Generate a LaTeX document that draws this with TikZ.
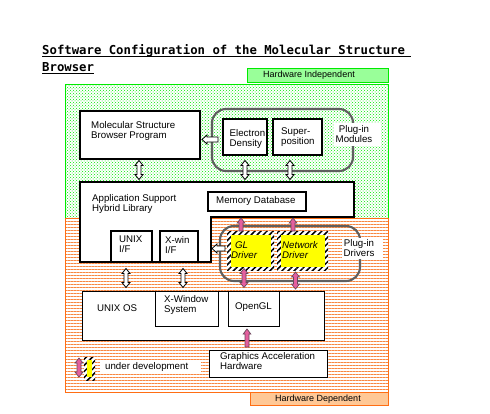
\documentclass[tikz,border=0pt]{standalone}
\usepackage{fontspec}
\setmainfont{Liberation Sans}
\newfontfamily\titlefont{DejaVu Sans Mono}
\usetikzlibrary{patterns,patterns.meta}
\definecolor{hwgreen}{RGB}{0,235,0}
\definecolor{hwgreenfill}{RGB}{153,255,153}
\definecolor{dotgreen}{RGB}{0,235,0}
\definecolor{hworange}{RGB}{255,110,20}
\definecolor{lineorange}{RGB}{248,135,65}
\definecolor{hworangefill}{RGB}{255,200,150}
\definecolor{plugray}{RGB}{95,95,95}
\definecolor{devyellow}{RGB}{255,255,0}
\definecolor{devpink}{RGB}{228,95,158}
\definecolor{devpinkline}{RGB}{105,70,90}
\newcommand{\mylines}[1]{\begin{tabular}[t]{@{}l@{}}#1\end{tabular}}
\newcommand{\mylinesc}[1]{\begin{tabular}[t]{@{}c@{}}#1\end{tabular}}
\newcommand{\rectnode}[6]{\node[#1, minimum width={#5-#3}, minimum height={#6-#4}] (#2) at ({(#3+#5)/2},{(#4+#6)/2}) {};}
\tikzset{
  box/.style={draw, fill=white, line width=1.7, inner sep=0},
  thinbox/.style={draw, fill=white, line width=0.9, inner sep=0},
  plugin/.style={draw=plugray, line width=2.1, rounded corners=14, inner sep=0},
  lbl/.style={anchor=base west, inner sep=0, font=\fontsize{9.7}{10}\selectfont},
  lblc/.style={anchor=base, inner sep=0, font=\fontsize{9.7}{10}\selectfont},
  whitebg/.style={fill=white, inner sep=0},
  devouter/.style={fill=white, inner sep=0, postaction={pattern={Lines[angle=45,distance=4.3pt,line width=1.5pt]}, pattern color=black}},
  devinner/.style={fill=devyellow, inner sep=0},
  hollow/.style={draw, fill=white, line width=0.8},
  pinkarr/.style={fill=devpink, draw=devpinkline, line width=0.7},
  pics/vdbl/.style={code={
    \pgfmathsetmacro\hl{#1}
    \path[pic actions] (0,-\hl) -- (4,-\hl+5) -- (2,-\hl+5) -- (2,\hl-5) -- (4,\hl-5) -- (0,\hl) -- (-4,\hl-5) -- (-2,\hl-5) -- (-2,-\hl+5) -- (-4,-\hl+5) -- cycle;
  }},
  pics/vup/.style={code={
    \pgfmathsetmacro\hl{#1}
    \path[pic actions] (0,-\hl) -- (3.8,-\hl+5) -- (2,-\hl+5) -- (2,\hl) -- (-2,\hl) -- (-2,-\hl+5) -- (-3.8,-\hl+5) -- cycle;
  }},
  pics/hleft/.style={code={
    \pgfmathsetmacro\hl{#1}
    \path[pic actions] (-\hl,0) -- (-\hl+5,-4.5) -- (-\hl+5,-2.5) -- (\hl,-2.5) -- (\hl,2.5) -- (-\hl+5,2.5) -- (-\hl+5,4.5) -- cycle;
  }},
}
\begin{document}
\begin{tikzpicture}[x=1pt,y=-1pt]
\useasboundingbox[fill=white] (0,0) rectangle (490,413);
% regions
\path[fill=white] (65,84) rectangle (388,218);
\path[pattern=crosshatch dots, pattern color=dotgreen] (65,84) rectangle (388,218);
\draw[hwgreen, line width=1] (65,84) rectangle (388,218);
\path[fill=white] (65,218) rectangle (388,392);
\path[pattern={Lines[angle=0,distance=3pt,line width=0.8pt]}, pattern color=lineorange] (65,218) rectangle (388,392);
\draw[hworange, line width=1] (65,218) rectangle (388,392);
% region labels
\rectnode{draw=hwgreen, fill=hwgreenfill, line width=1, inner sep=0}{hi}{247}{68}{388}{82}
\node[inner sep=0, font=\fontsize{9}{10}\selectfont] (hit) at (309,75.5) {Hardware Independent};
\rectnode{draw=hworange, fill=hworangefill, line width=1, inner sep=0}{hd}{250}{392}{388}{405}
\node[inner sep=0, font=\fontsize{9}{10}\selectfont] (hdt) at (318,399) {Hardware Dependent};
% title
\node[anchor=base west, inner sep=0, font=\titlefont\bfseries\fontsize{12.3}{14}\selectfont] (t1) at (42,54) {Software Configuration of the Molecular Structure};
\draw[line width=1.3] ([yshift=-2.8pt]t1.base west) -- ++(369,0);
\node[anchor=base west, inner sep=0, font=\titlefont\bfseries\fontsize{12.3}{14}\selectfont] (t2) at (42,71) {Browser};
\draw[line width=1.3] ([yshift=-2.8pt]t2.base west) -- ([yshift=-2.8pt]t2.base east);
% upper part
\rectnode{box}{msbp}{80}{111}{200}{159}
\node[lbl] (msbpt) at (91,128) {\mylines{Molecular Structure\\Browser Program}};
\rectnode{plugin}{pim}{212}{109}{353}{171}
\rectnode{box}{ed}{223}{119}{267}{155}
\node[lbl] (edt) at (229.5,136) {\mylines{Electron\\Density}};
\rectnode{box}{sp}{273}{119}{322}{155}
\node[lbl] (spt) at (281,134) {\mylines{Super-\\position}};
\rectnode{whitebg}{pimbg}{334}{123}{381}{146}
\node[lblc] (pimt) at (354,132) {\mylinesc{Plug-in\\Modules}};
% application support
\draw[box] (80,182) -- (354,182) -- (354,217) -- (211,217) -- (211,262) -- (80,262) -- cycle;
\node[lbl] (aslt) at (92,201) {\mylines{Application Support\\Hybrid Library}};
\rectnode{box}{mdb}{208}{192}{306}{211}
\node[lbl] (mdbt) at (216,203) {Memory Database};
\rectnode{box}{unixif}{111}{231}{152}{262}
\node[lbl] (unixift) at (119,242) {\mylines{UNIX\\I/F}};
\rectnode{box}{xwinif}{160}{231}{198}{262}
\node[lbl] (xwinift) at (165,243) {\mylines{X-win\\I/F}};
% drivers
\rectnode{plugin}{pid}{220}{226}{360}{281}
\rectnode{devouter}{gl}{227}{231}{274}{270}
\rectnode{devinner}{glin}{230.5}{234.5}{270.5}{266.5}
\node[lbl, font=\fontsize{9.7}{10}\selectfont\itshape] (glt) at (231,248) {\mylines{\hspace{4pt}GL\\Driver}};
\rectnode{devouter}{net}{277}{231}{328}{270}
\rectnode{devinner}{netin}{280.5}{234.5}{324.5}{266.5}
\node[lbl, font=\fontsize{9.7}{10}\selectfont\itshape] (nett) at (282,248) {\mylines{Network\\Driver}};
\rectnode{whitebg}{pidbg}{342}{238}{383}{259}
\node[lblc] (pidt) at (359,246) {\mylinesc{Plug-in\\Drivers}};
% OS layer
\rectnode{thinbox}{unixos}{82}{291}{324}{340}
\node[lbl] (unixost) at (97,311) {UNIX OS};
\rectnode{thinbox}{xwin}{155}{291}{218}{326}
\node[lbl] (xwint) at (164,302) {\mylines{X-Window\\System}};
\rectnode{thinbox}{opengl}{228}{291}{279}{326}
\node[lbl] (openglt) at (235,309) {OpenGL};
\rectnode{thinbox}{gah}{209}{350}{327}{377}
\node[lbl] (gaht) at (220,359) {\mylines{Graphics Acceleration\\Hardware}};
% hollow arrows
\pic[hollow] at (139,170) {vdbl=9.5};
\pic[hollow] at (245,170) {vdbl=9.5};
\pic[hollow] at (290,170) {vdbl=9.5};
\pic[hollow] at (210,139.5) {hleft=8};
\pic[hollow] at (218.5,248.5) {hleft=6.5};
\pic[hollow] at (126,278) {vdbl=9.5};
\pic[hollow] at (183,278) {vdbl=9.5};
% pink (under development) arrows
\pic[pinkarr] at (241,224.5) {vup=6.5};
\pic[pinkarr] at (293,224.5) {vup=6.5};
\pic[pinkarr] at (244,278) {vdbl=9.5};
\pic[pinkarr] at (295.5,280.5) {vdbl=8.5};
\pic[pinkarr] at (247,338) {vup=9};
% legend
\pic[pinkarr] at (79,367.5) {vdbl=9.5};
\rectnode{devouter}{legbar}{84}{357}{95}{380}
\rectnode{devinner}{legbarin}{87}{360}{92}{377}
\rectnode{whitebg}{legbg}{100}{362}{201}{372.5}
\node[lbl] (legt) at (105,369.5) {under development};
\end{tikzpicture}
\end{document}
